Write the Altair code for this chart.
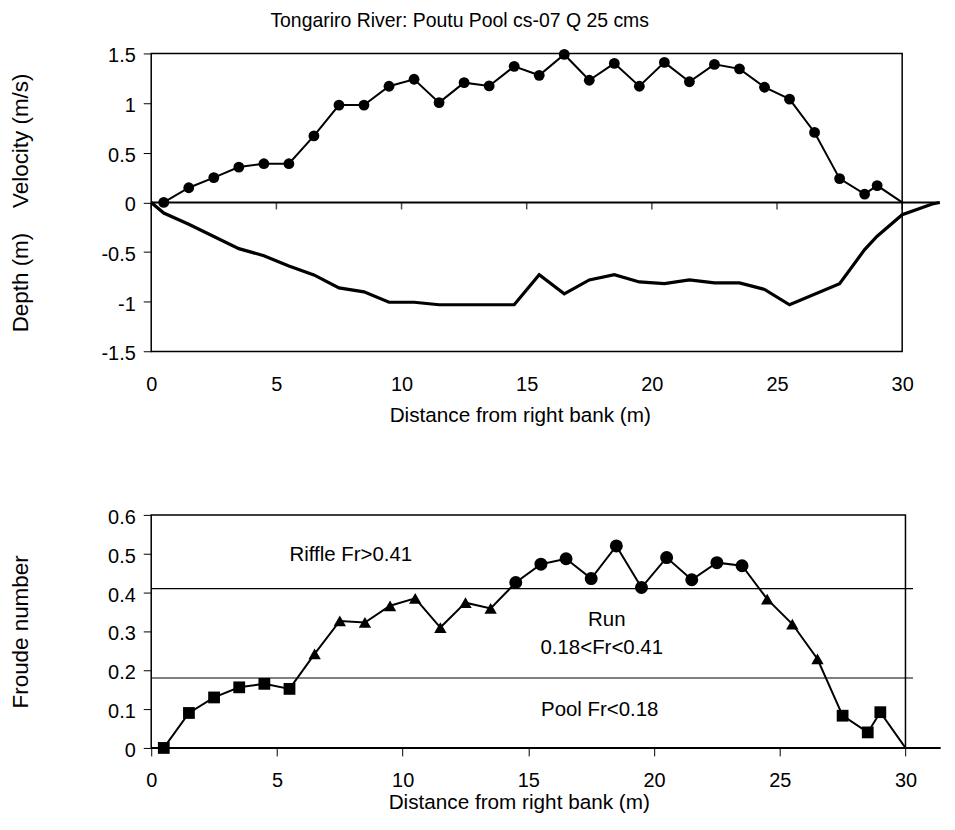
import altair as alt
import pandas as pd

FONT = "Liberation Sans"

# ---------------- data ----------------
vel_dist = [0.5, 1.5, 2.5, 3.5, 4.5, 5.5, 6.5, 7.5, 8.5, 9.5, 10.5, 11.5, 12.5, 13.5,
            14.5, 15.5, 16.5, 17.5, 18.5, 19.5, 20.5, 21.5, 22.5, 23.5, 24.5, 25.5,
            26.5, 27.5, 28.5, 29, 30]
vel_ms = [0.0, 0.148, 0.25, 0.356, 0.39, 0.39, 0.67, 0.98, 0.98, 1.17, 1.24, 1.005,
          1.206, 1.173, 1.37, 1.28, 1.49, 1.23, 1.40, 1.17, 1.41, 1.215, 1.39, 1.345,
          1.16, 1.04, 0.705, 0.24, 0.084, 0.17, 0.0]

depth_dist = [0, 0.5, 1.5, 3.5, 4.5, 5.5, 6.5, 7.5, 8.5, 9.5, 10.5, 11.5, 12.5, 13.5,
              14.5, 15.5, 16.5, 17.5, 18.5, 19.5, 20.5, 21.5, 22.5, 23.5, 24.5, 25.5,
              27.5, 28.5, 29, 30, 31.2, 31.5]
depth_m = [0.0, -0.107, -0.22, -0.465, -0.536, -0.64, -0.73, -0.86, -0.90, -1.005,
           -1.005, -1.03, -1.03, -1.03, -1.03, -0.727, -0.92, -0.78, -0.727, -0.80,
           -0.817, -0.78, -0.81, -0.81, -0.875, -1.03, -0.817, -0.475, -0.34, -0.124,
           -0.015, 0.0]

fr_dist = vel_dist
froude = [0.0, 0.09, 0.13, 0.156, 0.165, 0.152, 0.242, 0.327, 0.323, 0.366, 0.385,
          0.31, 0.374, 0.359, 0.426, 0.473, 0.487, 0.436, 0.52, 0.413, 0.49, 0.433,
          0.477, 0.469, 0.383, 0.319, 0.229, 0.083, 0.04, 0.092, 0.0]

fr_thresholds = [0.41, 0.18]

x_ticks = [0, 5, 10, 15, 20, 25, 30]
vel_ticks = [-1.5, -1, -0.5, 0, 0.5, 1, 1.5]
fr_ticks = [0, 0.1, 0.2, 0.3, 0.4, 0.5, 0.6]

ann_text = ["Riffle Fr>0.41", "Run", "0.18<Fr<0.41", "Pool Fr<0.18"]
ann_x = [7.94, 18.12, 17.92, 17.84]
ann_y = [0.496, 0.329, 0.257, 0.098]

TITLE = "Tongariro River: Poutu Pool cs-07 Q 25 cms"
X_TITLE = "Distance from right bank (m)"
Y_TITLE_TOP = "Depth (m)\u00a0\u00a0\u00a0\u00a0Velocity (m/s)"
Y_TITLE_BOT = "Froude number"

# extents of the reference lines / axis line beyond the box (axis units)
THR_END = 30.3
AXIS_END = 31.4

# ---------------- frames ----------------
vel_df = pd.DataFrame({"dist": vel_dist, "vel": vel_ms})
depth_df = pd.DataFrame({"dist": depth_dist, "vel": depth_m})
fr_df = pd.DataFrame({"dist": fr_dist, "fr": froude})
fr_df["cls"] = ["riffle" if v > 0.41 else ("run" if v >= 0.18 else "pool") for v in froude]
thr_df = pd.DataFrame({"fr": fr_thresholds, "dist": [0] * len(fr_thresholds),
                       "x1": [THR_END] * len(fr_thresholds)})
axis_df = pd.DataFrame({"dist": [0], "x1": [AXIS_END], "fr": [0]})
tick_df = pd.DataFrame({"dist": x_ticks, "vel": [0] * len(x_ticks)})
ann_df = pd.DataFrame({"label": ann_text, "dist": ann_x, "fr": ann_y})
title_df = pd.DataFrame({"t": [TITLE]})

W1, H1 = 754, 299.2
W2, H2 = 757.3, 234
LBL = "'' + datum.value"

xs1 = alt.Scale(domain=[0, 30], nice=False, zero=False)
ys1 = alt.Scale(domain=[-1.5, 1.5], nice=False, zero=False)
xs2 = alt.Scale(domain=[0, 30], nice=False, zero=False)
ys2 = alt.Scale(domain=[0, 0.6], nice=False, zero=False)

x_axis_top = alt.Axis(orient="bottom", values=x_ticks, ticks=False, tickSize=0,
                      domain=False, grid=False, labelExpr=LBL, labelFontSize=20,
                      labelPadding=23.5, labelFlush=False, labelOverlap=False,
                      title=X_TITLE, titleFontSize=20.8, titleX=370, titleY=54,
                      titleBaseline="top", titleAlign="center")
y_axis_top = alt.Axis(orient="left", values=vel_ticks, labelExpr=LBL, tickSize=8,
                      tickColor="black", tickWidth=1, domain=False, grid=False,
                      labelFontSize=20, labelPadding=8, labelOffset=2.5,
                      labelFlush=False, labelOverlap=False,
                      title=Y_TITLE_TOP, titleFontSize=22.5, titleX=-119,
                      titleAngle=270, titleBaseline="bottom", titleAlign="center")

x_axis_bot = alt.Axis(orient="bottom", values=x_ticks, ticks=True, tickSize=8,
                      tickColor="black", tickWidth=1, domain=False, grid=False,
                      labelExpr=LBL, labelFontSize=20, labelPadding=14.8,
                      labelFlush=False, labelOverlap=False,
                      title=X_TITLE, titleFontSize=20.8, titleX=369, titleY=45,
                      titleBaseline="top", titleAlign="center")
y_axis_bot = alt.Axis(orient="left", values=fr_ticks, labelExpr=LBL, tickSize=8,
                      tickColor="black", tickWidth=1, domain=False, grid=False,
                      labelFontSize=20, labelPadding=8, labelOffset=2.5,
                      labelFlush=False, labelOverlap=False,
                      title=Y_TITLE_BOT, titleFontSize=22.5, titleX=-119,
                      titleAngle=270, titleBaseline="bottom", titleAlign="center")

X1 = alt.X("dist:Q", scale=xs1, axis=x_axis_top)
Y1 = alt.Y("vel:Q", scale=ys1, axis=y_axis_top)
X2 = alt.X("dist:Q", scale=xs2, axis=x_axis_bot)
Y2 = alt.Y("fr:Q", scale=ys2, axis=y_axis_bot)

# ---------------- top panel ----------------
vel = alt.Chart(vel_df)
vel_line = vel.mark_line(color="black", strokeWidth=2).encode(x=X1, y=Y1)
vel_pts = vel.transform_filter("datum.dist < 30").mark_point(
    shape="circle", filled=True, size=118, color="black", opacity=1
).encode(x=X1, y=Y1)

depth = alt.Chart(depth_df)
zero_rule = depth.transform_aggregate(
    dist="min(dist)", x1="max(dist)"
).transform_calculate(vel="0").mark_rule(color="black", strokeWidth=2, clip=False).encode(
    x=X1, x2="x1:Q", y=Y1,
)
depth_line = depth.mark_line(color="black", strokeWidth=3.2, clip=False).encode(x=X1, y=Y1)
zero_ticks = alt.Chart(tick_df).mark_tick(
    orient="vertical", color="black", thickness=1.5, size=7, yOffset=3.5
).encode(x=X1, y=Y1)

title_txt = alt.Chart(title_df).mark_text(
    font=FONT, fontSize=19.5, color="black", align="center", baseline="alphabetic",
    clip=False
).encode(text="t:N", x=alt.value(309.7), y=alt.value(-26.5))

top = alt.layer(vel_line, vel_pts, zero_rule, depth_line, zero_ticks, title_txt).properties(
    width=W1, height=H1,
)

# ---------------- bottom panel ----------------
thr = alt.Chart(thr_df).mark_rule(color="black", strokeWidth=1.2, clip=False).encode(
    y=Y2, x=X2, x2="x1:Q",
)
axis_line = alt.Chart(axis_df).mark_rule(color="black", strokeWidth=2, clip=False).encode(
    x=X2, x2="x1:Q", y=Y2,
)
fr = alt.Chart(fr_df)
fr_line = fr.mark_line(color="black", strokeWidth=2).encode(x=X2, y=Y2)
fr_pts = fr.transform_filter("datum.dist < 30").mark_point(
    filled=True, color="black", opacity=1
).encode(
    x=X2, y=Y2,
    shape=alt.Shape("cls:N", scale=alt.Scale(domain=["pool", "run", "riffle"],
                                             range=["square", "triangle-up", "circle"]),
                    legend=None),
    size=alt.Size("cls:O", scale=alt.Scale(domain=["pool", "run", "riffle"],
                                           range=[140, 170, 105]),
                  legend=None),
)
texts = alt.Chart(ann_df).mark_text(font=FONT, fontSize=20.5, color="black",
                                    baseline="middle", align="center").encode(
    x=X2, y=Y2, text="label:N",
)

bottom = alt.layer(fr_line, thr, axis_line, fr_pts, texts).properties(width=W2, height=H2)

chart = (
    alt.vconcat(top, bottom, spacing=163.3, bounds="flush")
    .properties(padding={"left": 0.8, "top": 0, "right": 0, "bottom": 0})
    .configure(font=FONT)
    .configure_view(stroke="black", strokeWidth=1.5)
    .configure_axis(labelFont=FONT, titleFont=FONT, labelColor="black",
                    titleColor="black", titleFontWeight="normal")
    .configure_title(font=FONT, fontWeight="normal", color="black")
)

chart.save("out.html", embed_options={"renderer": "svg", "actions": False})
